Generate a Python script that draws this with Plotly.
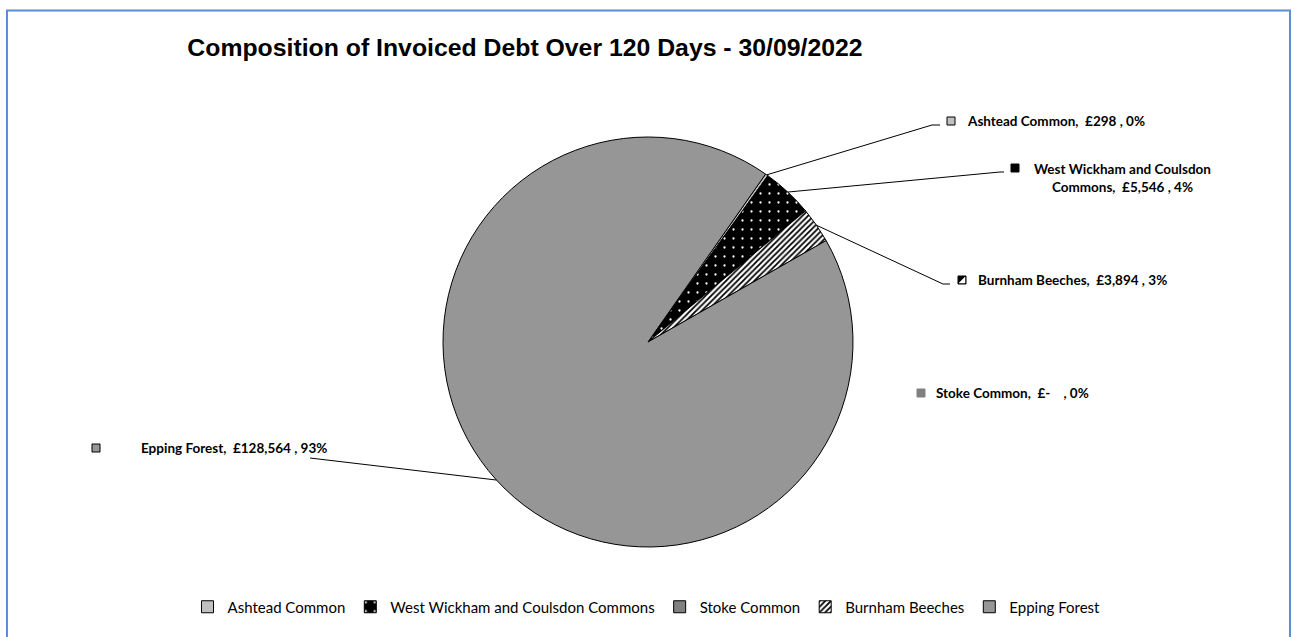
import math
import plotly.graph_objects as go

W, H = 1293, 637

# ---- data ----
categories = ["Ashtead Common", "West Wickham and Coulsdon Commons", "Stoke Common",
              "Burnham Beeches", "Epping Forest"]
values = [298, 5546, 0, 3894, 128564]

# ---- styles ----
slice_colors = ["#c0c0c0", "#000000", "#808080", "#ffffff", "#969696"]
pattern_shapes = ["", ".", "", "/", ""]
pattern_fg = ["#000000", "#ffffff", "#000000", "#000000", "#000000"]
pattern_size = [6, 9, 6, 4, 6]
pattern_solidity = [0.3, 0.05, 0.3, 0.45, 0.3]
rotation = 35

def px(x):
    return x / W

def py(y):
    return 1 - y / H

# pie geometry (pixels)
cx, cy, r = 648, 342, 205

total = sum(values)

def money(v):
    return "£-&nbsp;&nbsp;&nbsp;" if v == 0 else f"£{v:,}"

def pct(v):
    return f"{round(v / total * 100)}%"

fig = go.Figure()
fig.add_trace(go.Pie(
    labels=categories,
    values=values,
    sort=False,
    direction="clockwise",
    rotation=rotation,
    textinfo="none",
    hoverinfo="label+value+percent",
    marker=dict(
        colors=slice_colors,
        line=dict(color="#000000", width=1),
        pattern=dict(shape=pattern_shapes, fgcolor=pattern_fg, bgcolor=slice_colors,
                     size=pattern_size, solidity=pattern_solidity, fillmode="replace"),
    ),
    domain=dict(x=[px(cx - r), px(cx + r)], y=[py(cy + r), py(cy - r)]),
    showlegend=True,
))

# angles of slice mid-points (clockwise from 12 o'clock)
mids = []
acc = rotation
for v in values:
    ang = v / total * 360
    mids.append(acc + ang / 2)
    acc += ang

def edge(i):
    a = math.radians(mids[i])
    return cx + r * math.sin(a), cy - r * math.cos(a)

shapes = []
annotations = []

# label layout (pixel positions): marker centre, text anchor, leader elbow
label_layout = {
    0: dict(mk=(951, 121), tx=(965, 121), anchor="left", elbow=[(932, 125), (940, 125)]),
    1: dict(mk=(1015, 168), tx=(1122, 178), anchor="center", elbow=[(1000, 172), (1004, 172)]),
    3: dict(mk=(962, 280), tx=(976, 280), anchor="left", elbow=[(943, 284), (950, 284)]),
    2: dict(mk=(921, 393), tx=(934, 393), anchor="left", elbow=None),
    4: dict(mk=(96, 448), tx=(139, 448), anchor="left", elbow=[(310, 458)]),
}

key_fill = ["#c0c0c0", "#000000", "#808080", "#000000", "#969696"]
key_line = ["#000000", "#000000", "#808080", "#000000", "#000000"]
SP = "&nbsp;&nbsp;"
for i, lay in label_layout.items():
    name = categories[i]
    if i == 1:
        text = f"<b>West Wickham and Coulsdon<br>Commons,{SP}{money(values[i])} , {pct(values[i])}</b>"
    else:
        text = f"<b>{name},{SP}{money(values[i])} , {pct(values[i])}</b>"
    annotations.append(dict(
        x=px(lay["tx"][0]), y=py(lay["tx"][1]), xref="paper", yref="paper",
        text=text, showarrow=False, xanchor=lay["anchor"], yanchor="middle",
        align="center", font=dict(family="Lato", size=13.5, color="#000000"),
    ))
    mx, my = lay["mk"]
    shapes.append(dict(type="rect", xref="paper", yref="paper",
                       x0=px(mx - 4), x1=px(mx + 4), y0=py(my + 4), y1=py(my - 4),
                       fillcolor=key_fill[i], line=dict(color=key_line[i], width=1)))
    if i == 3:
        shapes.append(dict(type="path", xref="paper", yref="paper",
                           path=f"M {px(mx-3)},{py(my+3)} L {px(mx+3)},{py(my-3)} L {px(mx+3)},{py(my+3)} Z",
                           fillcolor="#ffffff", line=dict(color="#ffffff", width=0.5)))
    if lay["elbow"]:
        ex, ey = edge(i)
        pts = [(ex, ey)] + lay["elbow"]
        path = "M " + " L ".join(f"{px(x)},{py(y)}" for x, y in pts)
        shapes.append(dict(type="path", xref="paper", yref="paper", path=path,
                           line=dict(color="#000000", width=1)))

# outer border
shapes.append(dict(type="rect", xref="paper", yref="paper",
                   x0=px(7), x1=px(1290), y0=-0.2, y1=py(10.5),
                   line=dict(color="#5b8ed6", width=2), fillcolor="rgba(0,0,0,0)",
                   layer="below"))

fig.update_layout(
    width=W, height=H,
    margin=dict(l=0, r=0, t=0, b=0),
    paper_bgcolor="#ffffff",
    plot_bgcolor="#ffffff",
    title=dict(text="<b>Composition of Invoiced Debt Over 120 Days - 30/09/2022</b>",
               x=px(525), xanchor="center", y=py(47), yanchor="middle",
               font=dict(family="Liberation Sans", size=24.8, color="#000000")),
    legend=dict(orientation="h", x=0.5, xanchor="center", y=py(607), yanchor="middle",
                font=dict(family="Lato", size=15, color="#000000"),
                itemwidth=30, traceorder="normal"),
    shapes=shapes,
    annotations=annotations,
)

fig.write_html("out.html")
